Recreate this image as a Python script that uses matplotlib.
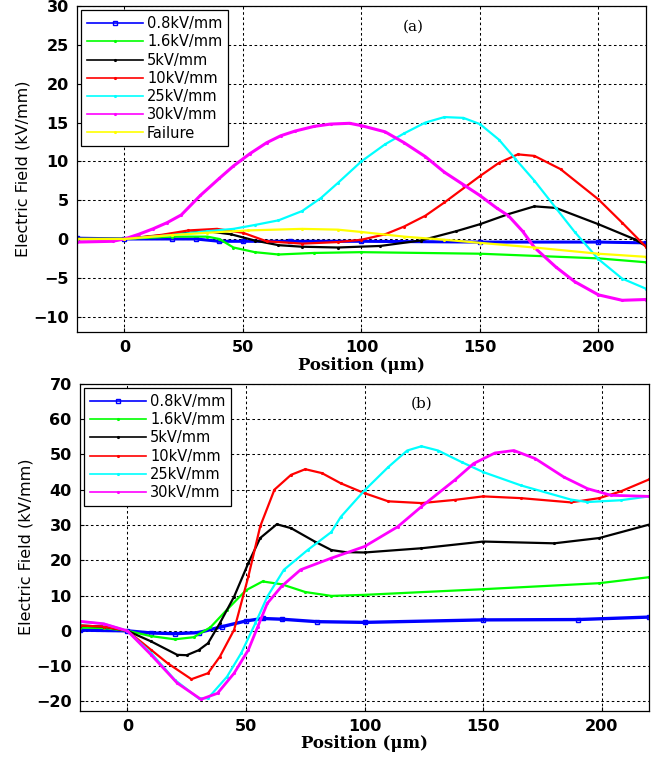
import matplotlib
matplotlib.use("Agg")
import matplotlib.pyplot as plt

# ---------------- Panel (a) data ----------------
labels_a = ["0.8kV/mm", "1.6kV/mm", "5kV/mm", "10kV/mm", "25kV/mm", "30kV/mm", "Failure"]

blue_a_x = [-20, 0, 20, 30, 40, 50, 70, 100, 150, 200, 220]
blue_a_y = [0.1, 0.0, 0.0, 0.0, -0.3, -0.3, -0.3, -0.3, -0.4, -0.4, -0.5]

green_a_x = [-20, 0, 20, 35, 40, 46, 55, 65, 80, 100, 150, 200, 220]
green_a_y = [0, 0, 0.3, 0.3, 0, -1.1, -1.7, -2.0, -1.8, -1.7, -1.9, -2.5, -3.0]

black_a_x = [-20, 0, 20, 35, 45, 55, 65, 75, 90, 108, 125, 140, 150, 162, 173, 182, 200, 215, 220]
black_a_y = [0, 0, 0.6, 1.0, 0.6, -0.2, -0.8, -1.0, -1.1, -0.9, -0.2, 1.0, 1.9, 3.2, 4.2, 4.0, 1.9, 0.0, -0.9]

red_a_x = [-20, 0, 15, 27, 39, 50, 60, 75, 90, 100, 110, 118, 127, 135, 150, 158, 166, 173, 184, 200, 210, 220]
red_a_y = [0, 0, 0.5, 1.1, 1.3, 0.8, -0.3, -0.6, -0.4, -0.1, 0.6, 1.6, 3.0, 4.7, 8.1, 9.8, 10.9, 10.7, 9.0, 5.1, 2.1, -1.0]

cyan_a_x = [-20, 0, 20, 35, 46, 55, 65, 75, 83, 90, 100, 110, 118, 127, 135, 143, 150, 158, 165, 173, 182, 190, 200, 210, 220]
cyan_a_y = [0, 0, 0.5, 1.0, 1.3, 1.8, 2.4, 3.6, 5.3, 7.2, 10.0, 12.2, 13.6, 15.0, 15.7, 15.6, 14.8, 12.8, 10.3, 7.5, 4.0, 0.9, -2.6, -5.1, -6.4]

magenta_a_x = [-20, -5, 0, 6, 12, 18, 24, 32, 40, 46, 53, 60, 66, 72, 80, 87, 95, 100, 110, 118,
               127, 135, 143, 150, 157, 162, 168, 173, 182, 190, 200, 210, 220]
magenta_a_y = [-0.4, -0.3, 0, 0.6, 1.3, 2.1, 3.1, 5.6, 7.8, 9.4, 11.0, 12.4, 13.3, 13.9, 14.5, 14.8, 14.9, 14.6, 13.8, 12.4,
               10.6, 8.6, 7.0, 5.6, 4.0, 3.0, 1.0, -1.1, -3.6, -5.5, -7.2, -7.9, -7.8]

yellow_a_x = [-20, 0, 20, 35, 52, 75, 90, 100, 118, 135, 150, 173, 200, 220]
yellow_a_y = [0, 0, 0.5, 0.8, 1.1, 1.3, 1.2, 0.9, 0.3, -0.1, -0.5, -1.1, -1.9, -2.3]

# ---------------- Panel (b) data ----------------
labels_b = ["0.8kV/mm", "1.6kV/mm", "5kV/mm", "10kV/mm", "25kV/mm", "30kV/mm"]

blue_b_x = [-20, 0, 10, 20, 30, 40, 50, 57, 65, 80, 100, 150, 190, 220]
blue_b_y = [0.2, 0, -0.6, -0.8, -0.5, 1.2, 2.8, 3.5, 3.3, 2.6, 2.4, 3.1, 3.2, 3.9]

green_b_x = [-20, -10, 0, 10, 20, 28, 35, 42, 50, 57, 65, 75, 86, 100, 150, 199, 220]
green_b_y = [0.9, 0.8, 0, -1.5, -2.4, -1.8, 1.0, 6.0, 11.5, 14.0, 13.2, 11.0, 9.9, 10.2, 11.8, 13.5, 15.2]

black_b_x = [-20, -10, 0, 10, 21, 25, 30, 34, 39, 45, 51, 56, 63, 69, 79, 86, 92, 100, 124, 150, 180, 199, 220]
black_b_y = [1.5, 1.2, 0, -3, -6.8, -6.9, -5.5, -3.5, 2.2, 9.7, 19.2, 26.3, 30.2, 29.1, 25.3, 22.9, 22.3, 22.2, 23.4, 25.3, 24.8, 26.3, 30.1]

red_b_x = [-20, -10, 0, 10, 17, 27, 34, 39, 45, 51, 56, 62, 69, 75, 82, 90, 100, 110, 124, 138, 150, 166, 187, 199, 208, 220]
red_b_y = [1.5, 1.2, 0, -5.4, -9.2, -13.7, -12.0, -7.3, 0.3, 15.4, 29.6, 40.0, 44.2, 45.8, 44.7, 41.8, 39.0, 36.7, 36.2, 37.1, 38.1, 37.6, 36.4, 37.6, 39.5, 42.9]

cyan_b_x = [-20, -10, 0, 10, 20, 30, 34, 42, 48, 54, 59, 66, 76, 86, 90, 100, 110, 118, 124, 131, 141, 150, 166, 187, 194, 208, 220]
cyan_b_y = [2.6, 2.0, 0, -6.3, -13.9, -19.1, -19.1, -13, -6.3, 2.2, 9.7, 17.3, 22.9, 28.0, 32.3, 39.8, 46.4, 51.1, 52.3, 51.1, 47.8, 45.0, 41.2, 37.2, 36.5, 37.0, 38.1]

magenta_b_x = [-20, -10, 0, 10, 21, 31, 38, 45, 51, 55, 59, 65, 73, 86, 100, 114, 124, 138, 146, 155, 163, 172, 184, 194, 204, 220]
magenta_b_y = [2.7, 2.0, 0, -6.8, -14.8, -19.4, -17.7, -12.0, -5.4, 1.2, 7.8, 12.6, 17.3, 20.6, 23.9, 29.5, 35.2, 42.7, 47.4, 50.4, 51.1, 48.8, 43.6, 40.3, 38.4, 38.1]

xticks = [0, 50, 100, 150, 200]
yticks_a = [-10, -5, 0, 5, 10, 15, 20, 25, 30]
yticks_b = [-20, -10, 0, 10, 20, 30, 40, 50, 60, 70]

colors = ["#0000ff", "#00ff00", "#000000", "#ff0000", "#00ffff", "#ff00ff", "#ffff00"]
markers = ["s", ".", ".", ".", ".", ".", "."]

fig = plt.figure(figsize=(6.53, 7.6), dpi=100)
ax_a = fig.add_axes([0.118, 0.563, 0.871, 0.429])
ax_b = fig.add_axes([0.1225, 0.065, 0.8715, 0.430])

tick_font = dict(family="DejaVu Sans", weight="bold", size=11.5)


def style(ax, yticks, ylim, tag, tag_pos):
    ax.set_xlim(-20, 220)
    ax.set_ylim(*ylim)
    ax.set_xticks(xticks)
    ax.set_yticks(yticks)
    ax.grid(True, color="black", linestyle=(0, (2.5, 2.5)), linewidth=0.75)
    ax.tick_params(direction="in", length=3, width=0.8, pad=6)
    for lab in ax.get_xticklabels() + ax.get_yticklabels():
        lab.set_fontproperties(tick_font)
        lab.set_fontsize(11.5)
    for s in ax.spines.values():
        s.set_linewidth(0.9)
    ax.set_xlabel("Position (\u03bcm)", family="DejaVu Serif", weight="bold", fontsize=12, labelpad=1)
    ax.set_ylabel("Electric Field (kV/mm)", family="DejaVu Sans", fontsize=11.5, labelpad=2)
    ax.text(tag_pos[0], tag_pos[1], tag, family="DejaVu Serif", fontsize=11, ha="center", va="center")


series_a = [(blue_a_x, blue_a_y), (green_a_x, green_a_y), (black_a_x, black_a_y), (red_a_x, red_a_y),
            (cyan_a_x, cyan_a_y), (magenta_a_x, magenta_a_y), (yellow_a_x, yellow_a_y)]
for i, ((x, y), lab) in enumerate(zip(series_a, labels_a)):
    lw = 2.2 if i in (0, 5) else 1.6
    ax_a.plot(x, y, color=colors[i], lw=lw, marker=markers[i], ms=3 if i == 0 else 2.5,
              mfc="none" if i == 0 else colors[i], label=lab)

series_b = [(blue_b_x, blue_b_y), (green_b_x, green_b_y), (black_b_x, black_b_y), (red_b_x, red_b_y),
            (cyan_b_x, cyan_b_y), (magenta_b_x, magenta_b_y)]
for i, ((x, y), lab) in enumerate(zip(series_b, labels_b)):
    lw = 2.4 if i == 0 else (2.0 if i == 5 else 1.6)
    ax_b.plot(x, y, color=colors[i], lw=lw, marker=markers[i], ms=3 if i == 0 else 2.5,
              mfc="none" if i == 0 else colors[i], label=lab)

style(ax_a, yticks_a, (-12, 30), "(a)", (122, 27.3))
style(ax_b, yticks_b, (-22.6, 70), "(b)", (124, 64.5))

for ax in (ax_a, ax_b):
    leg = ax.legend(loc="upper left", numpoints=1, handlelength=3.8, handletextpad=0.3,
                    labelspacing=0.22, borderpad=0.4, borderaxespad=0.3, fancybox=False,
                    framealpha=1, edgecolor="black", prop=dict(family="DejaVu Sans", size=10.5))
    leg.get_frame().set_linewidth(0.9)
    for h in leg.get_lines():
        h.set_linewidth(1.2)

fig.savefig("out.png", dpi=100)
